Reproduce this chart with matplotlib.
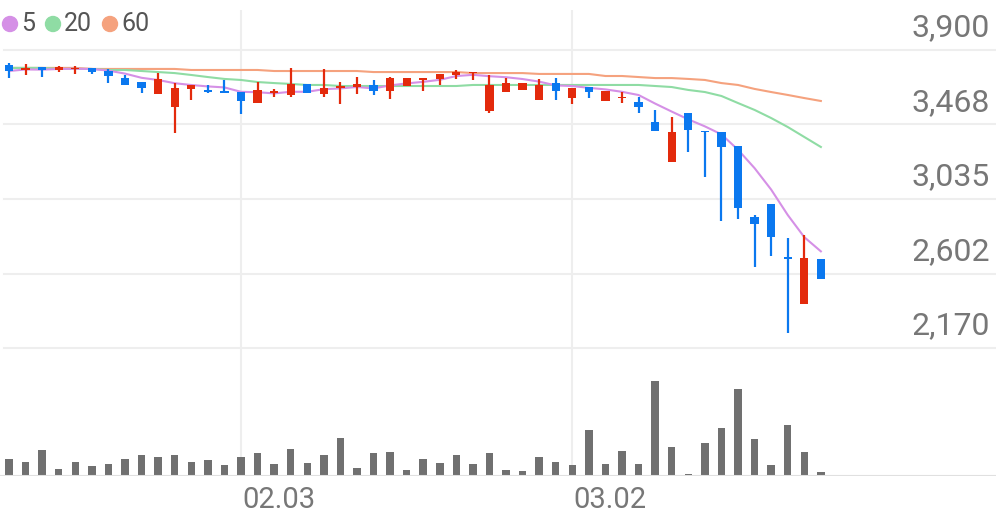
import matplotlib
matplotlib.use("Agg")
import matplotlib.pyplot as plt
import numpy as np
import pandas as pd

opens  = [3813,3784,3801,3784,3790,3796,3778,3737,3714,3645,3569,3674,3668,3662,3656,3592,3650,3639,3703,3645,
          3679,3685,3697,3662,3691,3726,3732,3755,3766,3546,3656,3668,3610,3708,3621,3685,3604,3621,3598,3482,
          3250,3534,3430,3424,3343,2931,3006,2698,2426,2687]
highs  = [3825,3819,3801,3807,3807,3796,3790,3755,3714,3766,3708,3697,3697,3726,3656,3714,3674,3796,3703,3790,
          3714,3743,3726,3743,3737,3737,3761,3784,3772,3755,3737,3708,3732,3737,3679,3685,3662,3656,3627,3552,
          3511,3534,3430,3424,3343,2942,3006,2809,2826,2687]
lows   = [3737,3755,3743,3772,3761,3761,3708,3697,3650,3645,3418,3610,3650,3650,3528,3592,3627,3627,3650,3627,
          3587,3645,3639,3616,3691,3662,3697,3732,3726,3534,3656,3668,3610,3610,3587,3621,3604,3592,3534,3430,
          3250,3308,3163,2907,2919,2640,2704,2257,2426,2571]
closes = [3778,3796,3784,3801,3796,3772,3749,3697,3679,3732,3679,3697,3656,3650,3604,3668,3662,3703,3650,3679,
          3691,3703,3662,3737,3737,3737,3761,3772,3772,3697,3708,3708,3697,3662,3679,3656,3662,3627,3569,3430,
          3424,3436,3424,3337,2983,2890,2814,2687,2693,2571]
ma20 = [3796,3796,3796,3790,3790,3790,3784,3784,3778,3772,3766,3755,3743,3732,3726,3714,3708,3703,3697,3697,
        3691,3691,3691,3691,3691,3691,3691,3691,3697,3697,3697,3697,3697,3697,3697,3697,3697,3697,3697,3691,
        3685,3668,3656,3633,3592,3552,3505,3453,3395,3337]
ma60 = [3796,3796,3796,3796,3796,3790,3790,3790,3790,3790,3790,3784,3784,3784,3784,3784,3778,3778,3778,3778,
        3778,3778,3772,3772,3772,3772,3772,3772,3766,3766,3766,3766,3761,3761,3761,3761,3749,3749,3743,3737,
        3737,3732,3726,3708,3697,3674,3656,3639,3621,3604]
volumes = [17,14,26,7,14,10,12,17,21,19,21,14,16,11,19,23,12,27,13,21,38,8,23,24,6,17,13,21,12,23,
           6,5,19,14,11,46,12,25,12,95,29,2,33,48,87,37,11,51,24,4]
date_labels = ["02.03", "03.02"]
date_idx = [14, 34]
yticks = [2170, 2602, 3035, 3468, 3900]

n = len(closes)
x = np.arange(n)
ma5 = pd.Series(closes).rolling(5, min_periods=1).mean().values

W, H = 996, 519
fig = plt.figure(figsize=(W/100, H/100), dpi=100)
RED, BLUE = "#e32a0c", "#0b78ef"
GRID = "#eeeeee"
xl = (-0.543, 59.57)
ppx = 5.805
top_px, bot_px = 10, 348
ax = fig.add_axes([0, 1-bot_px/H, 1, (bot_px-top_px)/H])
ax.set_xlim(*xl)
ax.set_ylim(2170, 3900 + 40*ppx)
axv = fig.add_axes([0, 1-476/H, 1, (476-348)/H])
axv.set_xlim(*xl)
axv.set_ylim(0, 128)
for a in (ax, axv):
    a.axis("off")
    for xi in date_idx:
        a.axvline(xi, color=GRID, lw=1.5, zorder=0)

for t in yticks:
    ax.plot([-0.3, 59.6], [t, t], color=GRID, lw=1.5, zorder=0, clip_on=False)
    ax.text(990/996, (t - 2170)/((3900+40*ppx)-2170) + 22/(bot_px-top_px), f"{t:,}",
            transform=ax.transAxes, ha="right", va="center", fontsize=23,
            color="#777777", family="Roboto")
axv.axhline(0, color="#e0e0e0", lw=1.5)

ax.plot(x, ma60, color="#f5a27e", lw=1.5, zorder=2)
ax.plot(x, ma20, color="#8fdca4", lw=1.5, zorder=2)
ax.plot(x, ma5, color="#d590e6", lw=1.5, zorder=2)

for i in range(n):
    c = RED if closes[i] >= opens[i] else BLUE
    ax.vlines(i, lows[i], highs[i], color=c, lw=1.6, zorder=3)
    lo, hi = sorted([opens[i], closes[i]])
    ax.bar(i, max(hi-lo, 6), bottom=lo, width=0.5, color=c, zorder=4)
axv.bar(x, volumes, width=0.45, color="#707070")

for xi, lab in zip(date_idx, date_labels):
    fig.text((xi - xl[0])/(xl[1]-xl[0]) + 1/996, 1-500/H, lab, ha="left", va="center",
             fontsize=21, color="#777777", family="Roboto")

# legend
lx = 10
for lab, col in [("5", "#d590e6"), ("20", "#8fdca4"), ("60", "#f5a27e")]:
    fig.patches.append(matplotlib.patches.Ellipse((lx/W, 1-24/H), 15/W, 15/H, transform=fig.transFigure,
                       color=col))
    fig.text((lx+11)/W, 1-24/H, lab, ha="left", va="center", fontsize=18, color="#555555",
             family="Roboto")
    lx += 11 + 14*len(lab) + 18

fig.savefig("out.png", dpi=100)
